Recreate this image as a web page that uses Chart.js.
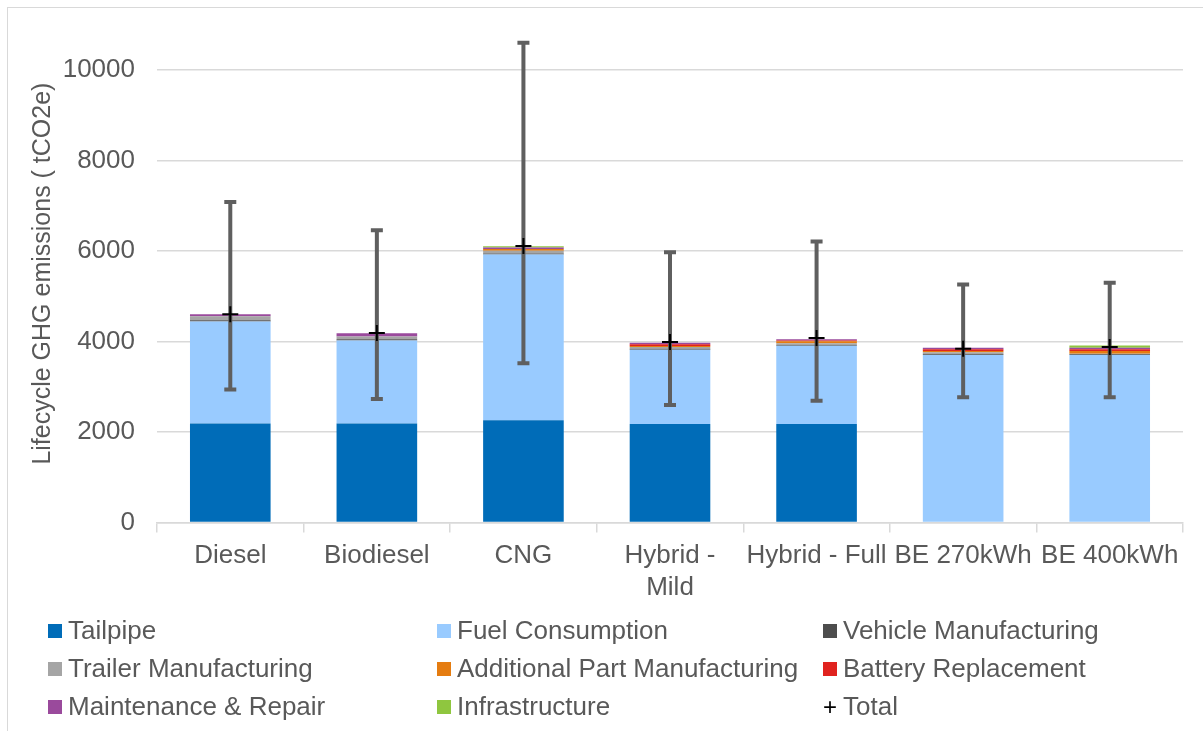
<!DOCTYPE html>
<html>
<head>
<meta charset="utf-8">
<script src="https://cdn.jsdelivr.net/npm/chart.js@4.4.1/dist/chart.umd.min.js"></script>
<style>
  html, body { margin: 0; padding: 0; background: #fff; }
  #wrap { position: relative; width: 1203px; height: 731px; overflow: hidden; }
  #frame { position: absolute; left: 7px; top: 7px; width: 1220px; height: 750px; border: 1.5px solid #d9d9d9; box-sizing: border-box; }
  #box { position: absolute; left: 0; top: -13px; width: 1203px; height: 624px; }
  #legend { position: absolute; left: 0; top: 0; width: 1203px; height: 731px; pointer-events: none;
            font-family: "Liberation Sans", Arial, sans-serif; font-size: 26px; color: #595959; }
  .item { position: absolute; display: flex; align-items: center; white-space: nowrap; }
  .sw { width: 14px; height: 14px; margin-right: 6px; }
  .plus { width: 14px; margin-right: 6px; color: #000; font-size: 24px; text-align: center; line-height: 14px; }
</style>
</head>
<body>
<div id="wrap">
  <div id="frame"></div>
  <div id="box"><canvas id="myChart"></canvas></div>
  <div id="legend"></div>
</div>
<script>
// categorias y valores (tCO2e)
const categories = ['Diesel', 'Biodiesel', 'CNG', ['Hybrid -', 'Mild'], 'Hybrid - Full', 'BE 270kWh', 'BE 400kWh'];

const tailpipe        = [2190, 2190, 2260, 2180, 2180, 0, 0];
const fuelConsumption = [2250, 1830, 3660, 1640, 1725, 3700, 3700];
const vehicleMfg      = [30, 30, 25, 20, 20, 20, 20];
const trailerMfg      = [90, 60, 60, 40, 35, 45, 10];
const additionalMfg   = [0, 0, 40, 20, 45, 25, 60];
const batteryRepl     = [0, 0, 0, 40, 15, 40, 40];
const maintenance     = [40, 75, 30, 30, 30, 30, 30];
const infrastructure  = [0, 0, 30, 0, 0, 0, 50];

const totals   = [4600, 4190, 6110, 3990, 4075, 3840, 3880];
const errLow   = [2940, 2730, 3520, 2600, 2690, 2770, 2770];
const errHigh  = [7080, 6460, 10600, 5970, 6210, 5260, 5300];

const series = [
    { label: 'Tailpipe', data: tailpipe, color: '#006cb8' },
    { label: 'Fuel Consumption', data: fuelConsumption, color: '#99cbff' },
    { label: 'Vehicle Manufacturing', data: vehicleMfg, color: '#4d4d4d' },
    { label: 'Trailer Manufacturing', data: trailerMfg, color: '#a5a5a5' },
    { label: 'Additional Part Manufacturing', data: additionalMfg, color: '#e57c10' },
    { label: 'Battery Replacement', data: batteryRepl, color: '#e0231f' },
    { label: 'Maintenance & Repair', data: maintenance, color: '#9a4a9c' },
    { label: 'Infrastructure', data: infrastructure, color: '#8fc63f' },
];

const FONT = '"Liberation Sans", Arial, sans-serif';
const GREY = '#595959';

// barras de error dibujadas justo antes del marcador del total
const errorBars = {
    id: 'errorBars',
    beforeDatasetDraw(chart, args) {
        if (args.index !== series.length) return;
        const ctx = chart.ctx;
        const x = chart.scales.x, y = chart.scales.y;
        ctx.save();
        ctx.strokeStyle = '#5f5f5f';
        ctx.lineWidth = 4;
        for (let i = 0; i < categories.length; i++) {
            const cx = x.getPixelForValue(i);
            const top = y.getPixelForValue(errHigh[i]);
            const bot = y.getPixelForValue(errLow[i]);
            ctx.beginPath();
            ctx.moveTo(cx, top); ctx.lineTo(cx, bot);
            ctx.moveTo(cx - 6, top); ctx.lineTo(cx + 6, top);
            ctx.moveTo(cx - 6, bot); ctx.lineTo(cx + 6, bot);
            ctx.stroke();
        }
        ctx.restore();
    }
};

const datasets = series.map(s => ({
    type: 'bar',
    label: s.label,
    data: s.data,
    backgroundColor: s.color,
    borderWidth: 0,
    stack: 'parts',
    categoryPercentage: 0.55,
    barPercentage: 1,
}));
datasets.push({
    type: 'line',
    label: 'Total',
    data: totals,
    stack: 'total',
    showLine: false,
    pointStyle: 'cross',
    pointRadius: 8,
    pointBorderWidth: 2,
    borderColor: '#000',
    backgroundColor: '#000',
    order: -1,
});

new Chart(document.getElementById('myChart'), {
    data: { labels: categories, datasets: datasets },
    plugins: [errorBars],
    options: {
        responsive: true,
        maintainAspectRatio: false,
        animation: false,
        layout: { padding: { top: 5, right: 20, left: 28, bottom: 0 } },
        plugins: {
            legend: { display: false },
            tooltip: { enabled: false },
        },
        scales: {
            x: {
                stacked: true,
                offset: true,
                grid: { offset: true, drawOnChartArea: false, color: '#d9d9d9', tickLength: 10, lineWidth: 1.5 },
                border: { color: '#d9d9d9', width: 1.5 },
                ticks: { color: GREY, font: { family: FONT, size: 26 }, padding: 8, maxRotation: 0, autoSkip: false }
            },
            y: {
                stacked: true,
                min: 0,
                max: 11000,
                afterBuildTicks(axis) {
                    axis.ticks = axis.ticks.filter(t => t.value % 2000 === 0);
                },
                afterFit(axis) {
                    axis.width = 129;
                },
                grid: { color: '#d9d9d9', lineWidth: 1.5, drawTicks: false },
                border: { display: false },
                ticks: {
                    stepSize: 1000, color: GREY, font: { family: FONT, size: 26 }, padding: 22,
                    callback: v => String(v)
                },
                title: {
                    display: true,
                    text: 'Lifecycle GHG emissions ( tCO2e)',
                    color: GREY,
                    font: { family: FONT, size: 25 },
                    padding: { top: 0, bottom: 4 }
                }
            }
        }
    }
});

// leyenda en tres columnas
const legendItems = series.map(s => ({ label: s.label, color: s.color }));
legendItems.push({ label: 'Total', plus: true });
const colX = [48, 437, 823];
const rowY = [630, 668, 706];
const leg = document.getElementById('legend');
legendItems.forEach((it, i) => {
    const d = document.createElement('div');
    d.className = 'item';
    d.style.left = colX[i % 3] + 'px';
    d.style.top = (rowY[Math.floor(i / 3)] - 15) + 'px';
    const mark = it.plus ? '<span class="plus">+</span>' : '<span class="sw" style="background:' + it.color + '"></span>';
    d.innerHTML = mark + '<span>' + it.label + '</span>';
    leg.appendChild(d);
});
</script>
</body>
</html>
